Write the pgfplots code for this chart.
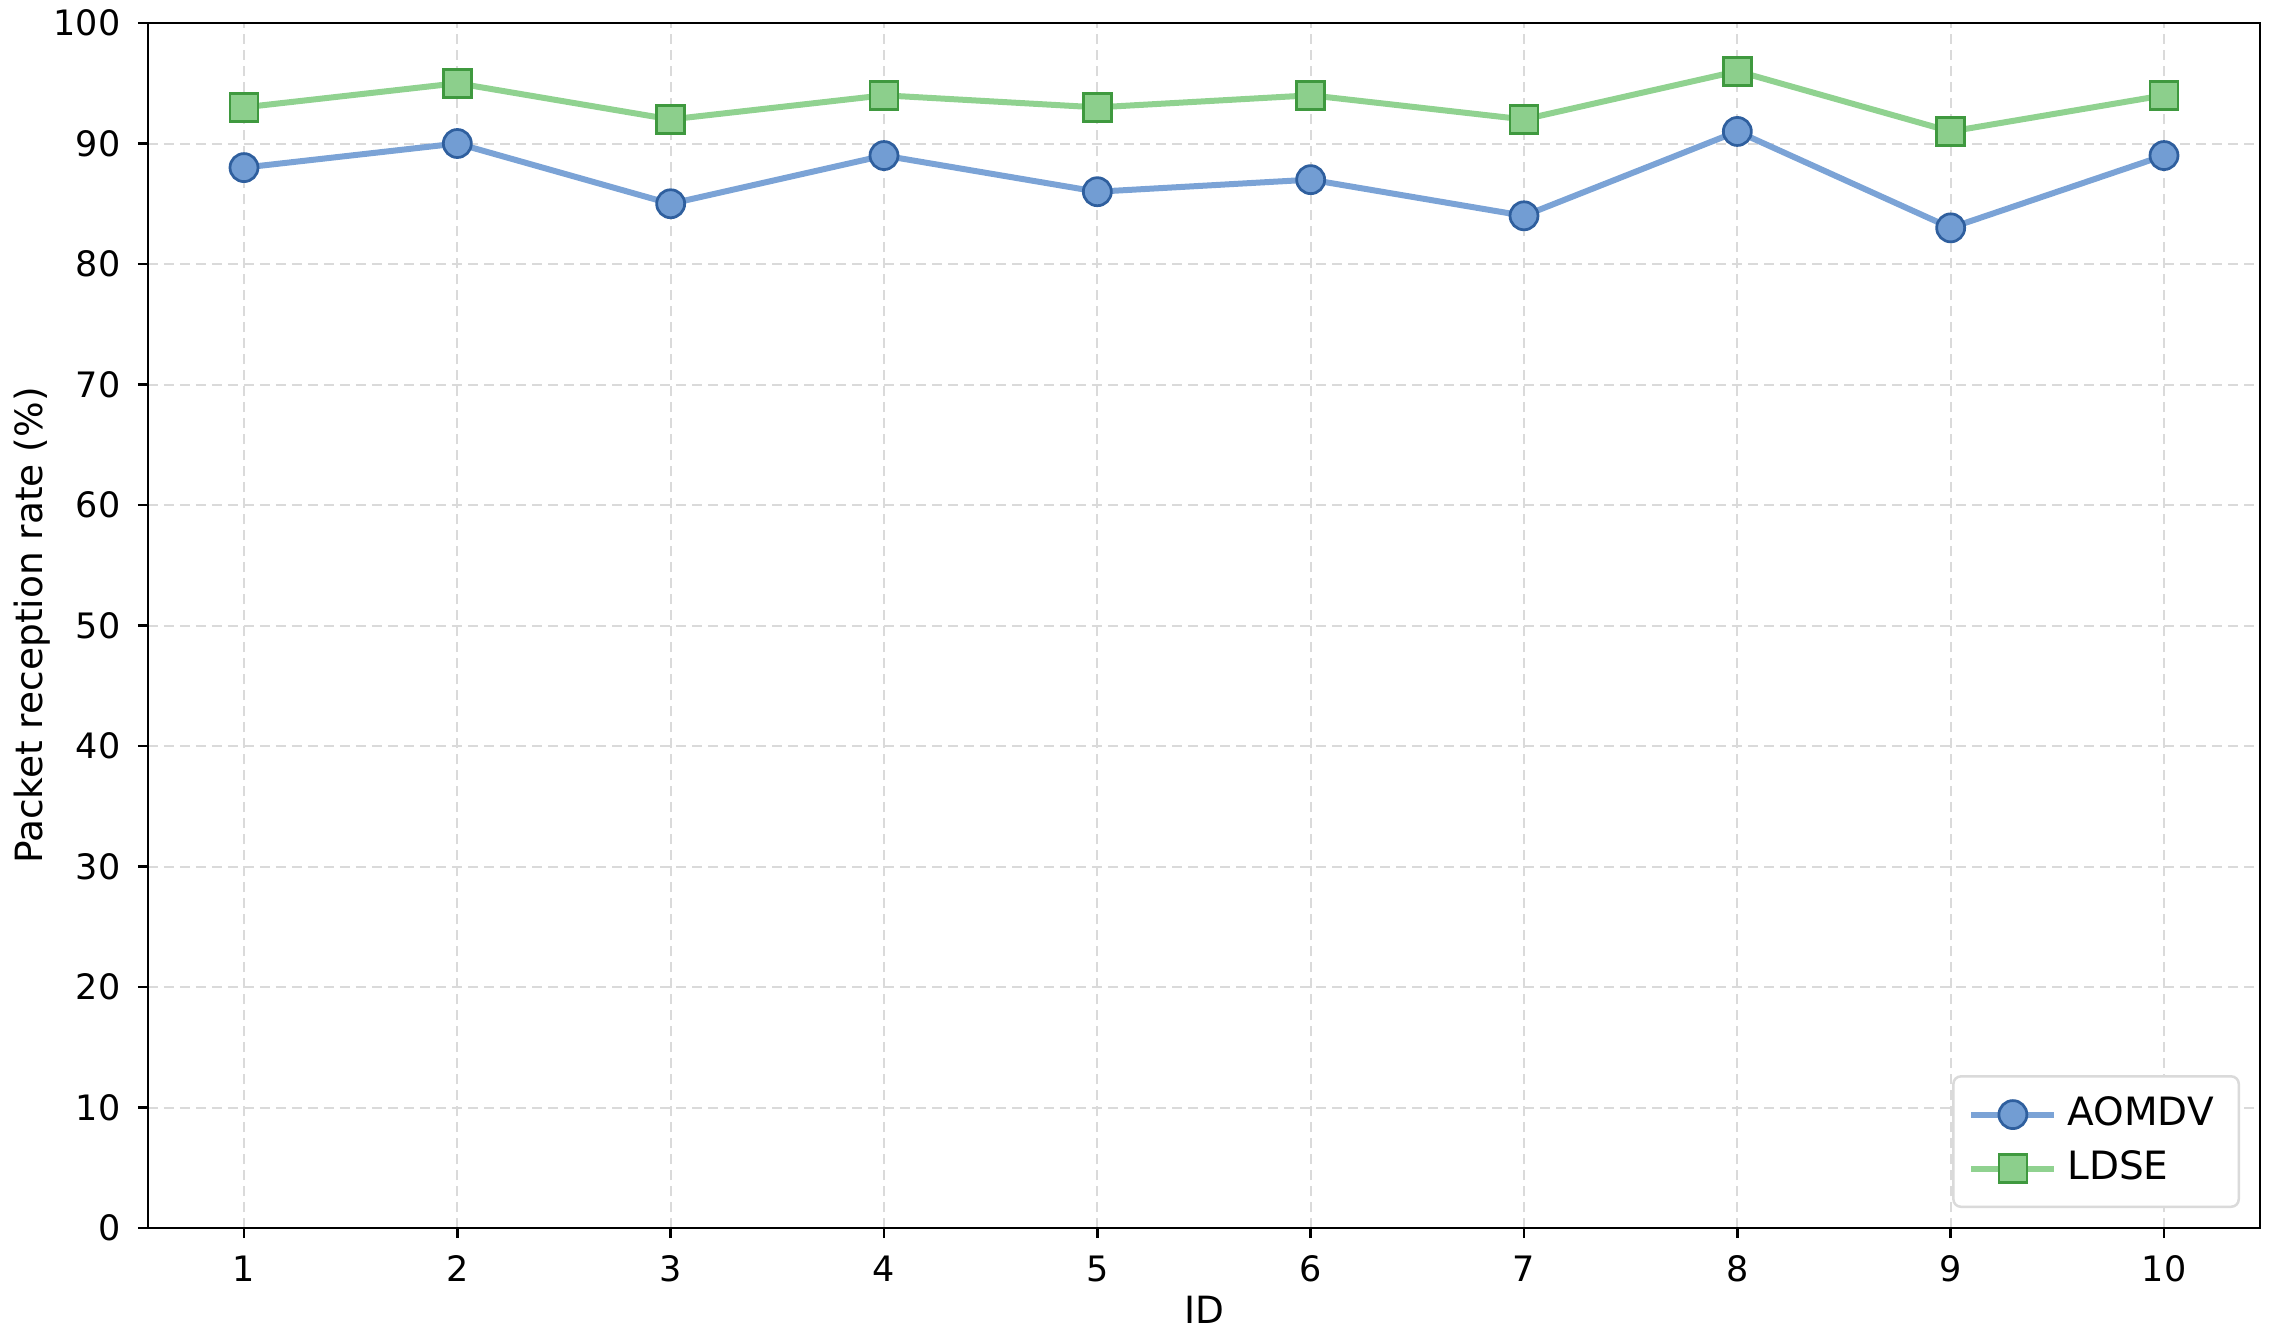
\documentclass[border=0pt]{standalone}
\usepackage{fontspec}
\setmainfont{DejaVu Sans}
\usepackage{pgfplots}
\pgfplotsset{compat=1.18}
\definecolor{bline}{HTML}{7BA3D6}
\definecolor{bfill}{HTML}{729DD3}
\definecolor{bedge}{HTML}{2F5F9E}
\definecolor{gline}{HTML}{90D290}
\definecolor{gfill}{HTML}{8CCF8C}
\definecolor{gedge}{HTML}{3F993F}
\definecolor{gridc}{HTML}{DADADA}
\begin{document}
\begin{tikzpicture}
\path[use as bounding box] (-29.6pt,-22.8pt) rectangle (425.6pt,245.6pt);
\begin{axis}[
  at={(0,0)}, anchor=south west,
  width=422.4pt, height=241pt, scale only axis,
  xmin=0.55, xmax=10.45, ymin=0, ymax=100,
  xtick={1,...,10}, ytick={0,10,...,100},
  axis line style={line width=0.5pt, black},
  tick style={line width=0.5pt, black},
  tick align=outside, tick pos=left,
  major tick length=2pt,
  grid=major,
  major grid style={gridc, dashed, line width=0.4pt, dash pattern=on 2pt off 1.2pt},
  ticklabel style={font=\fontsize{7}{8}\selectfont},
  /pgf/number format/assume math mode=true,
  xlabel={ID}, ylabel={Packet reception rate (\%)},
  label style={font=\fontsize{7.5}{9}\selectfont},
  xlabel style={at={(axis description cs:0.5,0)}, anchor=north, yshift=-10pt},
  ylabel style={at={(axis description cs:0,0.5)}, anchor=south, yshift=16pt},
  legend style={at={(1,0)}, anchor=south east, xshift=-4pt, yshift=4pt,
    draw=gridc, line width=0.5pt, rounded corners=1.5pt,
    font=\fontsize{7.8}{9}\selectfont, row sep=-0.5pt,
    inner xsep=3pt, inner ysep=2pt},
  legend cell align=left,
  legend image code/.code={
    \draw[#1, mark repeat=2, mark phase=2] plot coordinates {(0pt,0pt) (8.3pt,0pt) (16.6pt,0pt)};
  },
]
\addplot[bline, line width=1.2pt, mark=*, mark size=2.8pt,
  mark options={fill=bfill, draw=bedge, line width=0.55pt}]
  coordinates {(1,88) (2,90) (3,85) (4,89) (5,86) (6,87) (7,84) (8,91) (9,83) (10,89)};
\addlegendentry{AOMDV}
\addplot[gline, line width=1.2pt, mark=square*, mark size=2.8pt,
  mark options={fill=gfill, draw=gedge, line width=0.55pt}]
  coordinates {(1,93) (2,95) (3,92) (4,94) (5,93) (6,94) (7,92) (8,96) (9,91) (10,94)};
\addlegendentry{LDSE}
\end{axis}
\end{tikzpicture}
\end{document}
